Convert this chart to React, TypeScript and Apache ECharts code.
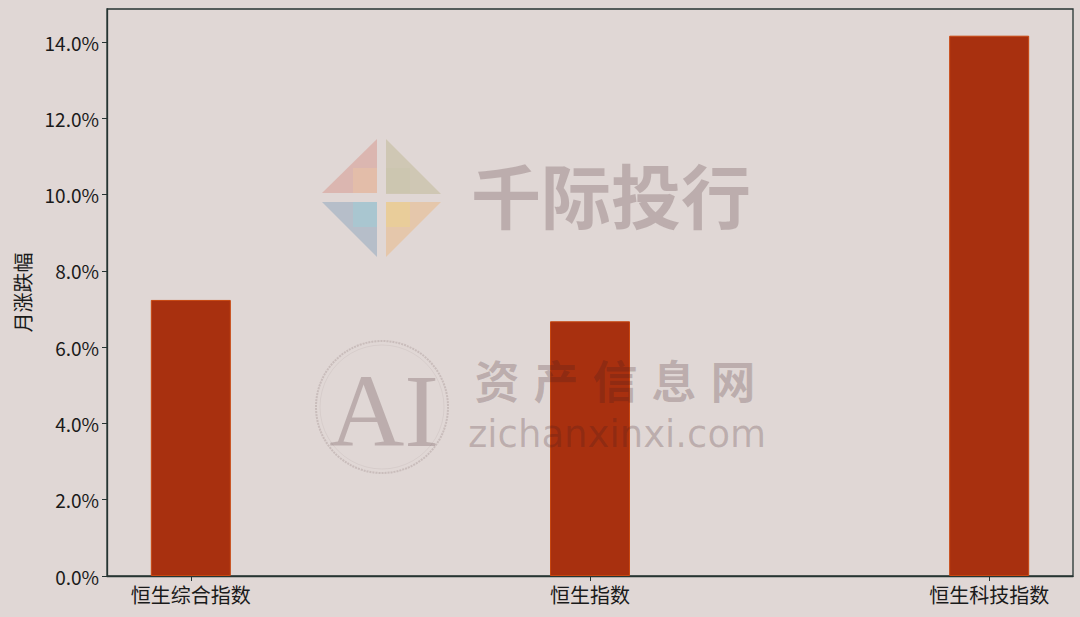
import { useEffect, useRef } from "react"
import * as echarts from "echarts"

const categories = ["恒生综合指数", "恒生指数", "恒生科技指数"]
const monthlyChange = [7.24, 6.68, 14.17]
const yTicks = [0, 2, 4, 6, 8, 10, 12, 14]

const BG = "#e0d7d5"
const SPINE = "#263432"
const BAR = "#a8300f"
// dark, thin overlay: greyish on the page, darker red where it crosses a bar
const MARK = "rgba(60, 26, 32, 0.22)"
const FONT = "'Noto Sans CJK SC', 'Noto Sans', sans-serif"

function watermark() {
  const logo = [
    { pts: [[322, 193], [377, 139], [377, 193]], fill: "rgba(214, 150, 140, 0.5)" },
    { pts: [[386, 139], [441, 194], [386, 194]], fill: "rgba(186, 180, 140, 0.45)" },
    { pts: [[322, 202], [377, 202], [377, 257]], fill: "rgba(140, 165, 190, 0.5)" },
    { pts: [[386, 202], [441, 202], [386, 257]], fill: "rgba(236, 180, 120, 0.45)" },
  ]
  const inner = [
    { x: 353, y: 168, fill: "rgba(240, 200, 160, 0.4)" },
    { x: 386, y: 168, fill: "rgba(200, 196, 170, 0.3)" },
    { x: 353, y: 202, fill: "rgba(150, 210, 220, 0.4)" },
    { x: 386, y: 202, fill: "rgba(240, 215, 130, 0.4)" },
  ]
  const siteChars = ["资", "产", "信", "息", "网"]
  const text = (x: number, y: number, t: string, font: string) => ({
    type: "text",
    z: 100,
    x,
    y,
    style: { text: t, font, fill: MARK, align: "center", verticalAlign: "middle" },
  })
  return [
    ...logo.map((p) => ({
      type: "polygon",
      z: 100,
      shape: { points: p.pts },
      style: { fill: p.fill },
    })),
    ...inner.map((s) => ({
      type: "rect",
      z: 101,
      shape: { x: s.x, y: s.y, width: 24, height: 25 },
      style: { fill: s.fill },
    })),
    text(611, 193, "千际投行", `bold 70px ${FONT}`),
    {
      type: "circle",
      z: 100,
      shape: { cx: 382, cy: 407, r: 66 },
      style: { fill: "none", stroke: "rgba(150, 130, 130, 0.3)", lineWidth: 2, lineDash: [2, 1] },
    },
    {
      type: "circle",
      z: 100,
      shape: { cx: 382, cy: 407, r: 62 },
      style: { fill: "none", stroke: "rgba(150, 130, 130, 0.12)", lineWidth: 1 },
    },
    text(384, 410, "AI", "104px 'Liberation Serif', serif"),
    ...siteChars.map((c, i) => text(497 + i * 59, 379, c, `bold 45px ${FONT}`)),
    text(617, 434, "zichanxinxi.com", "37px 'DejaVu Sans', sans-serif"),
  ]
}

export default function App() {
  const hostRef = useRef<HTMLDivElement>(null)

  useEffect(() => {
    document.body.style.margin = "0"
    const el = hostRef.current
    if (!el) return
    const chart = echarts.init(el, undefined, { renderer: "svg" })

    chart.setOption({
      animation: false,
      backgroundColor: BG,
      grid: {
        left: 107,
        right: 7,
        top: 9,
        bottom: 41,
        show: true,
        borderColor: SPINE,
        borderWidth: 1.3,
        backgroundColor: "transparent",
      },
      xAxis: {
        type: "value",
        min: -0.21,
        max: 2.21,
        axisLine: { show: true, onZero: false, lineStyle: { color: SPINE, width: 1.3 } },
        axisTick: { show: true, length: 5, customValues: [0, 1, 2], lineStyle: { color: SPINE } },
        axisLabel: {
          customValues: [0, 1, 2],
          formatter: (v: number) => categories[Math.round(v)] ?? "",
          color: "#1a1a1a",
          fontSize: 20,
          fontFamily: FONT,
          margin: 8,
        },
        splitLine: { show: false },
      },
      yAxis: {
        type: "value",
        min: 0,
        max: 14.87,
        name: "月涨跌幅",
        nameLocation: "middle",
        nameRotate: 90,
        nameGap: 75,
        nameTextStyle: { color: "#1a1a1a", fontSize: 20, fontFamily: FONT },
        axisLine: { show: true, onZero: false, lineStyle: { color: SPINE, width: 1.3 } },
        axisTick: { show: true, length: 5, customValues: yTicks, lineStyle: { color: SPINE } },
        axisLabel: {
          customValues: yTicks,
          formatter: (v: number) => `${v.toFixed(1)}%`,
          color: "#1a1a1a",
          fontSize: 19,
          fontFamily: FONT,
          margin: 8,
        },
        splitLine: { show: false },
      },
      series: [
        {
          type: "bar",
          barWidth: 80,
          data: monthlyChange.map((v, i) => [i, v]),
          itemStyle: { color: BAR, borderColor: "#c8460f", borderWidth: 1 },
        },
      ],
      graphic: watermark(),
    })

    return () => {
      chart.dispose()
    }
  }, [])

  return <div ref={hostRef} style={{ width: 1080, height: 617 }} />
}
